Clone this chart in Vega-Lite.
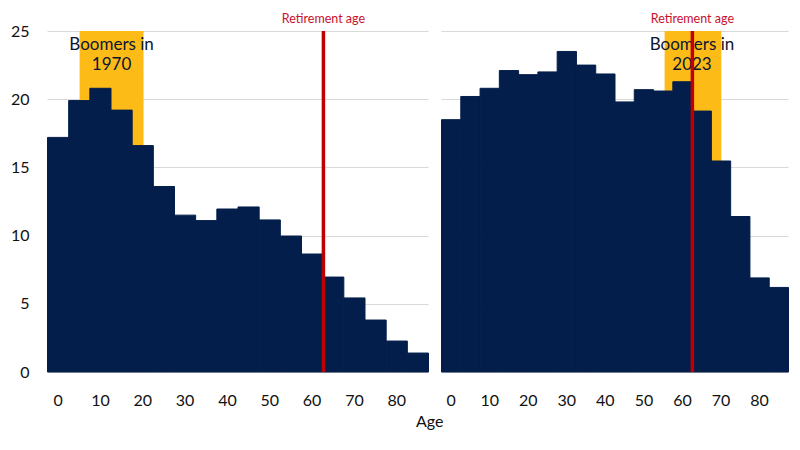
{
  "$schema": "https://vega.github.io/schema/vega-lite/v6.json",
  "background": "white",
  "padding": {"left": 10, "top": 13, "right": 10, "bottom": 5},
  "config": {
    "font": "Lato",
    "view": {"stroke": null},
    "axis": {"domain": false, "ticks": false, "tickSize": 0, "gridColor": "#d9d9d9", "gridWidth": 1, "labelFontSize": 16, "labelColor": "#111111", "labelFont": "Lato", "title": null},
    "concat": {"spacing": 12}
  },
  "title": {"text": "Age", "orient": "bottom", "anchor": "middle", "fontSize": 16, "fontWeight": "normal", "color": "#111111", "font": "Lato", "offset": 6, "dx": 30},
  "datasets": {
    "pop": [
      {"year": "1970", "age": 0, "share": 17.2},
      {"year": "1970", "age": 5, "share": 19.9},
      {"year": "1970", "age": 10, "share": 20.8},
      {"year": "1970", "age": 15, "share": 19.2},
      {"year": "1970", "age": 20, "share": 16.6},
      {"year": "1970", "age": 25, "share": 13.6},
      {"year": "1970", "age": 30, "share": 11.5},
      {"year": "1970", "age": 35, "share": 11.1},
      {"year": "1970", "age": 40, "share": 11.95},
      {"year": "1970", "age": 45, "share": 12.1},
      {"year": "1970", "age": 50, "share": 11.15},
      {"year": "1970", "age": 55, "share": 9.97},
      {"year": "1970", "age": 60, "share": 8.65},
      {"year": "1970", "age": 65, "share": 6.96},
      {"year": "1970", "age": 70, "share": 5.43},
      {"year": "1970", "age": 75, "share": 3.81},
      {"year": "1970", "age": 80, "share": 2.27},
      {"year": "1970", "age": 85, "share": 1.39},
      {"year": "2023", "age": 0, "share": 18.5},
      {"year": "2023", "age": 5, "share": 20.2},
      {"year": "2023", "age": 10, "share": 20.8},
      {"year": "2023", "age": 15, "share": 22.1},
      {"year": "2023", "age": 20, "share": 21.8},
      {"year": "2023", "age": 25, "share": 22.0},
      {"year": "2023", "age": 30, "share": 23.5},
      {"year": "2023", "age": 35, "share": 22.5},
      {"year": "2023", "age": 40, "share": 21.85},
      {"year": "2023", "age": 45, "share": 19.8},
      {"year": "2023", "age": 50, "share": 20.7},
      {"year": "2023", "age": 55, "share": 20.6},
      {"year": "2023", "age": 60, "share": 21.28},
      {"year": "2023", "age": 65, "share": 19.13},
      {"year": "2023", "age": 70, "share": 15.47},
      {"year": "2023", "age": 75, "share": 11.4},
      {"year": "2023", "age": 80, "share": 6.9},
      {"year": "2023", "age": 85, "share": 6.2}
    ],
    "notes": [
      {"year": "1970", "boom_from": 5.2, "boom_to": 20.3, "boom_mid": 12.75, "label": "Boomers in\n1970", "retire": 62.8, "retire_label": "Retirement age", "label_y": 23.95, "retire_y": 25.85},
      {"year": "2023", "boom_from": 55.5, "boom_to": 70.2, "boom_mid": 62.6, "label": "Boomers in\n2023", "retire": 62.7, "retire_label": "Retirement age", "label_y": 23.95, "retire_y": 25.85}
    ]
  },
  "hconcat": [
    {
      "width": 381,
      "height": 341,
      "layer": [
        {
          "data": {"name": "notes"},
          "transform": [{"filter": "datum.year == '1970'"}],
          "mark": {"type": "rect", "color": "#FDBB18"},
          "encoding": {
            "x": {"field": "boom_from", "type": "quantitative", "scale": {"domain": [-2.5, 87.5], "nice": false, "zero": false}},
            "x2": {"field": "boom_to"}
          }
        },
        {
          "data": {"name": "pop"},
          "transform": [{"filter": "datum.year == '1970'"}],
          "mark": {"type": "bar", "color": "#041E4B", "binSpacing": 0, "stroke": "#041E4B", "strokeWidth": 1},
          "encoding": {
            "x": {"field": "age", "type": "quantitative", "bin": {"step": 5, "anchor": -2.5, "extent": [-2.5, 87.5], "nice": false},
              "axis": {"values": [0, 10, 20, 30, 40, 50, 60, 70, 80], "format": "d", "grid": false, "labelPadding": 20, "labelFlush": false}},
            "y": {"field": "share", "type": "quantitative",
              "scale": {"domain": [0, 25], "nice": false},
              "axis": {"values": [0, 5, 10, 15, 20, 25], "grid": true, "labelPadding": 18}}
          }
        },
        {
          "data": {"name": "notes"},
          "transform": [{"filter": "datum.year == '1970'"}],
          "mark": {"type": "text", "fontSize": 17, "color": "#0b1533", "lineBreak": "\n", "lineHeight": 20, "baseline": "middle", "align": "center"},
          "encoding": {
            "x": {"field": "boom_mid", "type": "quantitative"},
            "y": {"field": "label_y", "type": "quantitative"},
            "text": {"field": "label"}
          }
        },
        {
          "data": {"name": "notes"},
          "transform": [{"filter": "datum.year == '1970'"}],
          "mark": {"type": "rule", "color": "#C00000", "strokeWidth": 3.5},
          "encoding": {
            "x": {"field": "retire", "type": "quantitative"}
          }
        },
        {
          "data": {"name": "notes"},
          "transform": [{"filter": "datum.year == '1970'"}],
          "mark": {"type": "text", "fontSize": 12.5, "color": "#C8102E", "baseline": "middle", "align": "center"},
          "encoding": {
            "x": {"field": "retire", "type": "quantitative"},
            "y": {"field": "retire_y", "type": "quantitative"},
            "text": {"field": "retire_label"}
          }
        }
      ]
    },
    {
      "width": 347,
      "height": 341,
      "layer": [
        {
          "data": {"name": "notes"},
          "transform": [{"filter": "datum.year == '2023'"}],
          "mark": {"type": "rect", "color": "#FDBB18"},
          "encoding": {
            "x": {"field": "boom_from", "type": "quantitative", "scale": {"domain": [-2.5, 87.5], "nice": false, "zero": false}},
            "x2": {"field": "boom_to"}
          }
        },
        {
          "data": {"name": "pop"},
          "transform": [{"filter": "datum.year == '2023'"}],
          "mark": {"type": "bar", "color": "#041E4B", "binSpacing": 0, "stroke": "#041E4B", "strokeWidth": 1},
          "encoding": {
            "x": {"field": "age", "type": "quantitative", "bin": {"step": 5, "anchor": -2.5, "extent": [-2.5, 87.5], "nice": false},
              "axis": {"values": [0, 10, 20, 30, 40, 50, 60, 70, 80], "format": "d", "grid": false, "labelPadding": 20, "labelFlush": false}},
            "y": {"field": "share", "type": "quantitative",
              "scale": {"domain": [0, 25], "nice": false},
              "axis": {"values": [0, 5, 10, 15, 20, 25], "grid": true, "labels": false}}
          }
        },
        {
          "data": {"name": "notes"},
          "transform": [{"filter": "datum.year == '2023'"}],
          "mark": {"type": "text", "fontSize": 17, "color": "#0b1533", "lineBreak": "\n", "lineHeight": 20, "baseline": "middle", "align": "center"},
          "encoding": {
            "x": {"field": "boom_mid", "type": "quantitative"},
            "y": {"field": "label_y", "type": "quantitative"},
            "text": {"field": "label"}
          }
        },
        {
          "data": {"name": "notes"},
          "transform": [{"filter": "datum.year == '2023'"}],
          "mark": {"type": "rule", "color": "#C00000", "strokeWidth": 3.5},
          "encoding": {
            "x": {"field": "retire", "type": "quantitative"}
          }
        },
        {
          "data": {"name": "notes"},
          "transform": [{"filter": "datum.year == '2023'"}],
          "mark": {"type": "text", "fontSize": 12.5, "color": "#C8102E", "baseline": "middle", "align": "center"},
          "encoding": {
            "x": {"field": "retire", "type": "quantitative"},
            "y": {"field": "retire_y", "type": "quantitative"},
            "text": {"field": "retire_label"}
          }
        }
      ]
    }
  ]
}
